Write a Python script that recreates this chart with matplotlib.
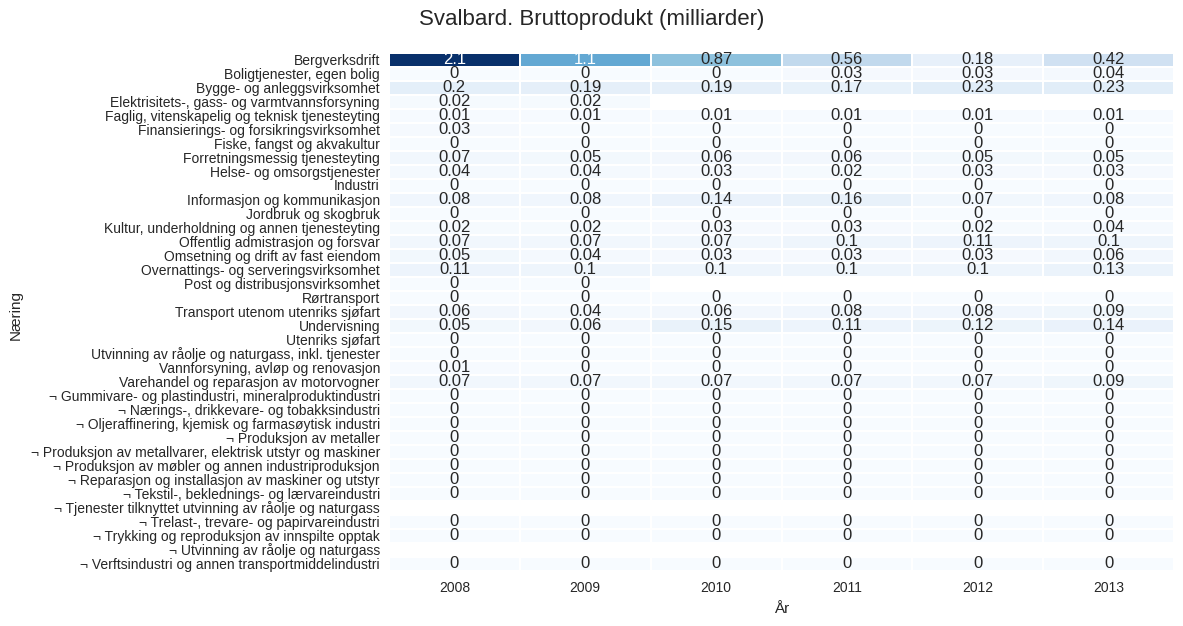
import numpy as np
import matplotlib
matplotlib.use("Agg")
import matplotlib.pyplot as plt
from matplotlib.transforms import ScaledTranslation

plt.rcParams['font.family'] = ['Liberation Sans', 'DejaVu Sans']
DARK = '#262626'
nan = np.nan

years = [2008, 2009, 2010, 2011, 2012, 2013]
industries = [
    "Bergverksdrift", "Boligtjenester, egen bolig", "Bygge- og anleggsvirksomhet",
    "Elektrisitets-, gass- og varmtvannsforsyning", "Faglig, vitenskapelig og teknisk tjenesteyting",
    "Finansierings- og forsikringsvirksomhet", "Fiske, fangst og akvakultur",
    "Forretningsmessig tjenesteyting", "Helse- og omsorgstjenester", "Industri",
    "Informasjon og kommunikasjon", "Jordbruk og skogbruk",
    "Kultur, underholdning og annen tjenesteyting", "Offentlig admistrasjon og forsvar",
    "Omsetning og drift av fast eiendom", "Overnattings- og serveringsvirksomhet",
    "Post og distribusjonsvirksomhet", "Rørtransport", "Transport utenom utenriks sjøfart",
    "Undervisning", "Utenriks sjøfart", "Utvinning av råolje og naturgass, inkl. tjenester",
    "Vannforsyning, avløp og renovasjon", "Varehandel og reparasjon av motorvogner",
    "¬ Gummivare- og plastindustri, mineralproduktindustri",
    "¬ Nærings-, drikkevare- og tobakksindustri",
    "¬ Oljeraffinering, kjemisk og farmasøytisk industri", "¬ Produksjon av metaller",
    "¬ Produksjon av metallvarer, elektrisk utstyr og maskiner",
    "¬ Produksjon av møbler og annen industriproduksjon",
    "¬ Reparasjon og installasjon av maskiner og utstyr",
    "¬ Tekstil-, beklednings- og lærvareindustri",
    "¬ Tjenester tilknyttet utvinning av råolje og naturgass",
    "¬ Trelast-, trevare- og papirvareindustri",
    "¬ Trykking og reproduksjon av innspilte opptak",
    "¬ Utvinning av råolje og naturgass",
    "¬ Verftsindustri og annen transportmiddelindustri",
]
values = np.array([
    [2.1, 1.1, 0.87, 0.56, 0.18, 0.42],
    [0, 0, 0, 0.03, 0.03, 0.04],
    [0.2, 0.19, 0.19, 0.17, 0.23, 0.23],
    [0.02, 0.02, nan, nan, nan, nan],
    [0.01, 0.01, 0.01, 0.01, 0.01, 0.01],
    [0.03, 0, 0, 0, 0, 0],
    [0, 0, 0, 0, 0, 0],
    [0.07, 0.05, 0.06, 0.06, 0.05, 0.05],
    [0.04, 0.04, 0.03, 0.02, 0.03, 0.03],
    [0, 0, 0, 0, 0, 0],
    [0.08, 0.08, 0.14, 0.16, 0.07, 0.08],
    [0, 0, 0, 0, 0, 0],
    [0.02, 0.02, 0.03, 0.03, 0.02, 0.04],
    [0.07, 0.07, 0.07, 0.1, 0.11, 0.1],
    [0.05, 0.04, 0.03, 0.03, 0.03, 0.06],
    [0.11, 0.1, 0.1, 0.1, 0.1, 0.13],
    [0, 0, nan, nan, nan, nan],
    [0, 0, 0, 0, 0, 0],
    [0.06, 0.04, 0.06, 0.08, 0.08, 0.09],
    [0.05, 0.06, 0.15, 0.11, 0.12, 0.14],
    [0, 0, 0, 0, 0, 0],
    [0, 0, 0, 0, 0, 0],
    [0.01, 0, 0, 0, 0, 0],
    [0.07, 0.07, 0.07, 0.07, 0.07, 0.09],
    [0, 0, 0, 0, 0, 0],
    [0, 0, 0, 0, 0, 0],
    [0, 0, 0, 0, 0, 0],
    [0, 0, 0, 0, 0, 0],
    [0, 0, 0, 0, 0, 0],
    [0, 0, 0, 0, 0, 0],
    [0, 0, 0, 0, 0, 0],
    [0, 0, 0, 0, 0, 0],
    [nan, nan, nan, nan, nan, nan],
    [0, 0, 0, 0, 0, 0],
    [0, 0, 0, 0, 0, 0],
    [nan, nan, nan, nan, nan, nan],
    [0, 0, 0, 0, 0, 0],
])

W, H = 1183, 626
fig = plt.figure(figsize=(W / 100, H / 100), dpi=100)
ax = fig.add_axes([389 / W, 1 - 571 / H, 785 / W, 518 / H])

vmax = 2.1
cmap = plt.get_cmap('Blues')
ax.pcolormesh(np.ma.masked_invalid(values), cmap=cmap, vmin=0, vmax=vmax,
              edgecolors='white', linewidth=1.44)
ax.set_xlim(0, len(years))
ax.set_ylim(len(industries), 0)

for r, row in enumerate(values):
    for c, v in enumerate(row):
        if np.isnan(v):
            continue
        color = 'white' if v > 1.0 else DARK
        ax.text(c + 0.5, r + 0.5, f"{v:g}", ha='center', va='center',
                fontsize=12, color=color)

ax.set_xticks(np.arange(len(years)) + 0.5, [str(y) for y in years], fontsize=10, color=DARK)
ax.set_yticks(np.arange(len(industries)) + 0.5, industries, fontsize=10, color=DARK)
ax.tick_params(length=0)
ax.tick_params(axis='x', pad=7.2)
ax.tick_params(axis='y', pad=6.5)
up = ScaledTranslation(0, 1 / 100, fig.dpi_scale_trans)
for lab in ax.get_yticklabels():
    lab.set_transform(lab.get_transform() + up)
for s in ax.spines.values():
    s.set_visible(False)

ax.set_xlabel("År", fontsize=11, color=DARK, labelpad=5)
fig.text(16 / W, 1 - 315 / H, "Næring", rotation=90, fontsize=11, color=DARK,
         ha='center', va='center')
fig.text(592 / W, 1 - 19 / H, "Svalbard. Bruttoprodukt (milliarder)", fontsize=16,
         color=DARK, ha='center', va='center')

fig.savefig("out.png", dpi=100)
